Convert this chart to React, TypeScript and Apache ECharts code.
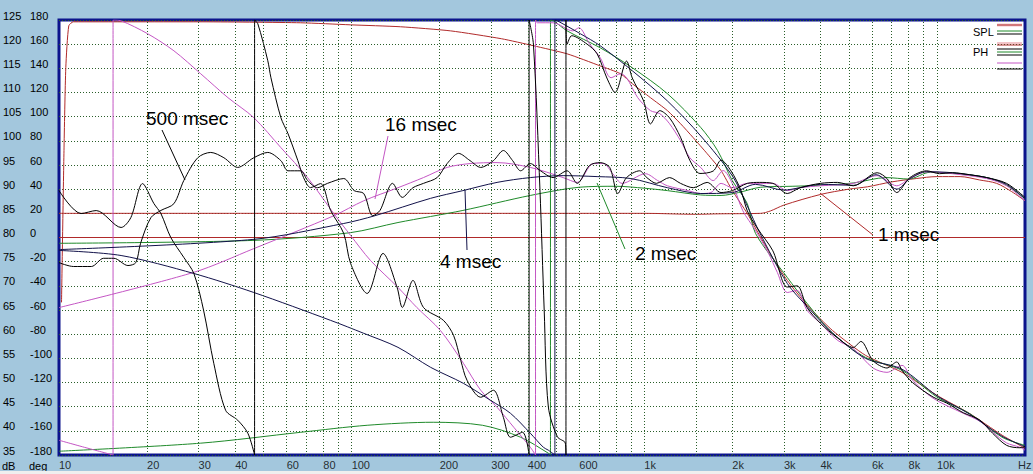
import React, { useEffect, useRef } from "react";
import * as echarts from "echarts";

// ---------- DATA ----------
// x tick labels [frequency Hz, text]
const xTickLabels: [number, string][] = [
  [10, "10"], [20, "20"], [30, "30"], [40, "40"], [60, "60"], [80, "80"],
  [100, "100"], [200, "200"], [300, "300"], [400, "400"], [600, "600"],
  [1000, "1k"], [2000, "2k"], [3000, "3k"], [4000, "4k"], [6000, "6k"],
  [8000, "8k"], [10000, "10k"], [20000, "Hz"],
];
// vertical grid lines (Hz)
const gridFreqs = [
  20, 30, 40, 50, 60, 70, 80, 90, 100, 200, 300, 400, 500, 600, 700, 800, 900,
  1000, 1500, 2000, 3000, 4000, 5000, 6000, 7000, 8000, 9000, 10000,
];

// SPL curves [Hz, dB]
const spl1ms: [number, number][] = [
  [10, 85.0], [1000, 85.0], [1500, 84.8], [1800, 84.9], [2500, 85.0], [2700, 85.5],
  [3000, 86.7], [4000, 88.9], [5000, 90.0], [5800, 90.5], [7000, 91.5], [8500, 92.2],
  [10000, 92.6], [12000, 92.6], [14000, 91.9], [16000, 91.2], [18000, 89.5], [20000, 87.6],
];
const spl2ms: [number, number][] = [
  [10, 78.8], [46, 79.4], [99, 81.0], [144, 83.1], [240, 85.6], [408, 88.7], [600, 90.4],
  [800, 90.6], [1000, 90.2], [1200, 89.7], [1560, 88.8], [1830, 88.7], [2100, 89.3],
  [2500, 90.4], [3200, 90.6], [4000, 90.8], [5200, 91.3], [6700, 92.4], [8000, 92.1],
  [9500, 93.5], [11300, 93.3], [14800, 92.4], [17300, 90.8], [20000, 88.0],
];
const spl4ms: [number, number][] = [
  [10, 77.5], [46, 79.6], [94, 82.9], [120, 84.5], [186, 88.1], [240, 89.7], [314, 91.4],
  [408, 92.4], [528, 92.8], [690, 92.6], [900, 92.2], [1200, 90.3], [1560, 89.1],
  [2000, 89.3], [2400, 91.0], [3000, 89.8], [3400, 90.3], [4000, 91.0], [5200, 90.8],
  [6200, 93.0], [7300, 90.0], [8100, 92.2], [9200, 93.6], [11300, 93.4], [14800, 92.4],
  [17300, 91.0], [20000, 88.0],
];
const spl16ms: [number, number][] = [
  [10, 65.5], [28.9, 72.8], [46.3, 77.7], [86.9, 84.5], [110, 87.6], [144, 90.3],
  [176, 92.4], [212, 94.5], [254, 95.3], [314, 95.5], [408, 94.5], [528, 92.4],
  [590, 91.4], [670, 95.3], [725, 95.3], [780, 93.2], [840, 91.2], [1010, 93.2],
  [1110, 91.8], [1200, 90.7], [1410, 89.7], [1560, 89.1], [1690, 89.3], [1830, 91.2],
  [2000, 90.3], [2250, 91.2], [2750, 91.2], [3080, 89.7], [3410, 90.3], [4000, 90.7],
  [5180, 91.2], [6250, 92.8], [7290, 90.7], [8090, 92.2], [9230, 93.6], [11300, 93.2],
  [14800, 92.2], [17300, 90.7], [20000, 87.6],
];
const spl500ms: [number, number][] = [
  [10, 74.8], [11.2, 74.0], [12.9, 74.0], [14.2, 75.7], [15.4, 75.7], [17.2, 74.2],
  [18.3, 74.8], [19.0, 78.8], [20.6, 84.1], [22.3, 85.6], [24.7, 87.0], [26.7, 91.8],
  [29.8, 96.5], [33.0, 97.6], [36.6, 96.5], [40.8, 94.5], [46.3, 96.5], [51.7, 97.6],
  [57.3, 95.9], [60.6, 93.8], [67, 93.8], [70.7, 91.8], [76.5, 90.3], [82.7, 91.2],
  [94, 92.2], [102, 89.7], [110, 89.1], [118, 84.5], [125, 85.6], [138, 91.2],
  [149, 88.3], [162, 90.3], [176, 91.2], [196, 92.4], [212, 95.3], [232, 97.4],
  [254, 95.9], [276, 94.5], [305, 95.9], [330, 98.0], [355, 95.9], [378, 93.8],
  [408, 95.3], [442, 93.8], [488, 92.4], [545, 93.8], [590, 91.2], [650, 94.9],
  [707, 95.5], [762, 94.5], [812, 89.1], [870, 92.4], [964, 93.8], [1020, 92.4],
  [1100, 91.2], [1220, 92.4], [1330, 91.2], [1470, 90.3], [1640, 91.4], [1830, 89.3],
  [2000, 89.7], [2250, 91.2], [2480, 91.4], [2750, 91.2], [3080, 89.1], [3410, 90.3],
  [4000, 91.2], [4570, 91.4], [5180, 90.7], [6250, 93.4], [6750, 92.2], [7290, 89.3],
  [8090, 92.4], [9230, 93.8], [10200, 93.2], [11300, 93.4], [12900, 93.0],
  [14800, 92.4], [17300, 91.2], [20000, 88.3],
];

// Phase curves [Hz, deg]
const ph1ms: [number, number][] = [
  [10.2, -53.7], [10.4, 71.9], [10.55, 140.5], [10.8, 175.2], [11.2, 178.5], [30, 178.5],
  [67, 177.7], [99, 176], [147, 174.4], [218, 171], [325, 164.5], [418, 158.7],
  [545, 152], [707, 142], [830, 135.5], [910, 127.3], [1050, 115.7], [1200, 105],
  [1330, 94.2], [1470, 82.6], [1640, 69.4], [1830, 55.4], [2000, 38.8], [2250, 19.8],
  [2500, 0], [2750, -17], [3080, -35.5], [3600, -56], [4400, -77], [5700, -97.5],
  [7600, -111.6], [10000, -130.6], [12900, -145.5], [16700, -163.6], [20000, -174.4],
];
const phZero: [number, number][] = [[10, 0], [20000, 0]];
const ph2ms: [number, number][] = [
  [10, -176.9], [30.5, -170.2], [67, -161.2], [113, -155.4], [190, -152.9],
  [280, -155.4], [378, -165.3], [470, -178.5], [478, -180], [478, 180], [490, 179.3],
  [545, 171], [707, 157], [910, 140.5], [1200, 119], [1560, 91], [1780, 72],
  [2000, 47], [2250, 28], [2400, 3.3], [3080, -33], [3600, -54.5], [4400, -79.3],
  [5700, -99.2], [7600, -110], [10000, -132], [12900, -145.5], [16700, -165.3],
  [20000, -172],
];
const ph4ms: [number, number][] = [
  [10, -10.7], [16.3, -14.9], [28.9, -29.8], [46.3, -45.5], [84.8, -68.6], [110, -79.3],
  [144, -90.9], [186, -107.4], [241, -120.7], [298, -134.7], [349, -145.5], [408, -162],
  [452, -173.6], [470, -176], [495, -180], [495, 180], [505, 179.3], [605, 168.6],
  [707, 158.7], [910, 138], [1200, 113], [1560, 84], [2000, 51], [2250, 26], [2480, 4],
  [3080, -38], [3600, -57], [4400, -79], [5700, -100], [7600, -109], [10000, -131],
  [12900, -146], [16700, -164.5], [20000, -173],
];
const ph16ms: [number, number][] = [
  [10, -167.8], [12.2, -173.6], [15.3, -180], [15.3, 180], [16.3, 179.3], [20.1, 168.6],
  [24.7, 154.5], [30.5, 135.5], [37.8, 115.7], [46.3, 99.2], [57.3, 74.4], [70.7, 49.6],
  [86.9, 19.8], [99.2, 1.7], [116, -19], [144, -41.3], [167, -57.9], [201, -76.9],
  [241, -104.1], [276, -126.4], [314, -140.5], [358, -157], [408, -173.6], [425, -180],
  [425, 180], [431, 177.7], [488, 177.7], [570, 171], [598, 173.6], [650, 160.3],
  [707, 148.8], [770, 132.2], [830, 135.5], [870, 132.2], [950, 115.7], [1050, 105],
  [1130, 102.5], [1220, 94.2], [1330, 80.2], [1430, 66.1], [1560, 57.9], [1720, 47.1],
  [1860, 55.4], [2000, 44.6], [2170, 22.3], [2400, 5.8], [2650, -12.4], [2850, -29],
  [3080, -45.5], [3330, -43.8], [3600, -60.3], [4000, -71], [4570, -85], [5180, -92],
  [6050, -108], [6750, -111.6], [7600, -105.8], [8250, -118], [9700, -133],
  [12300, -145.5], [14000, -152], [15500, -161], [17300, -170], [19200, -173.6],
  [20000, -176],
];
const ph500ms: [number, number][] = [
  [10, 38.8], [11.9, 19.8], [13.4, 22.3], [16.3, 8.3], [17.6, 16.5], [19.3, 44.6],
  [21.1, 28.1], [22.3, 19.8], [24.1, 0], [26.7, -16.5], [28.9, -29.8], [31.2, -60.3],
  [33.8, -104.1], [37.1, -143], [40.8, -151.2], [44.2, -162], [46.6, -180], [46.6, 180],
  [47.8, 176.9], [51.7, 146.3], [53, 132.2], [57.3, 99.2], [60.6, 86], [65.5, 63.6],
  [68.5, 49.6], [72.4, 41.3], [78.3, 44.6], [84.8, 22.3], [94, 3.3], [99.2, -21.5],
  [113, -46.3], [128, -13.2], [143, -41.3], [149, -57.9], [162, -35.5], [176, -57.9],
  [206, -68.6], [223, -81], [236, -101.7], [248, -118.2], [276, -132.2], [305, -126.4],
  [330, -148.8], [349, -165.3], [384, -161.2], [404, -180], [404, 180], [418, 160],
  [440, 40], [455, -60], [470, -140], [505, -165], [537, -170], [540, -180], [540, 180],
  [545, 160], [565, 167], [638, 160], [690, 152], [745, 132], [795, 120], [870, 146],
  [910, 132], [995, 113], [1050, 94], [1130, 105], [1220, 99], [1330, 83], [1430, 64],
  [1550, 53], [1720, 55], [1830, 64], [1980, 55], [2140, 39], [2250, 22], [2430, 8],
  [2750, -11], [3080, -41], [3330, -40], [3600, -58], [4000, -71], [4570, -83],
  [5180, -91], [5500, -86], [6050, -102], [6750, -108], [7290, -103], [7600, -110],
  [8250, -120], [9700, -132], [10800, -137], [12300, -145], [14000, -151],
  [15500, -162], [17300, -172], [19200, -174], [20000, -173],
];

// ---------- STYLE ----------
const RED = "#b02a2a";
const PINK = "#f2c4c8";
const GREEN = "#1f8a2a";
const NAVY = "#12124a";
const MAGENTA = "#c456c4";
const BLACK = "#000000";
const GRID = "#2a5e2a";
const FONT = '"Liberation Sans", Arial, sans-serif';

function lineSeries(name: string, data: [number, number][], color: string, yAxisIndex: number, smooth: number | boolean = 0.3) {
  return {
    type: "line",
    name,
    data,
    xAxisIndex: 0,
    yAxisIndex,
    showSymbol: false,
    symbol: "none",
    smooth,
    silent: true,
    clip: true,
    z: 3,
    lineStyle: { color, width: 1 },
    itemStyle: { color },
  };
}

function txt(text: string, x: number, y: number, size: number, fill = "#000") {
  return {
    type: "text",
    x,
    y,
    silent: true,
    z: 50,
    style: {
      text,
      fill,
      font: `${size}px ${FONT}`,
      align: "left",
      verticalAlign: "middle",
      textAlign: "left",
      textVerticalAlign: "middle",
    },
  };
}
function seg(x1: number, y1: number, x2: number, y2: number, stroke: string, lineWidth = 1) {
  return { type: "line", silent: true, z: 50, shape: { x1, y1, x2, y2 }, style: { stroke, lineWidth } };
}

export default function App() {
  const ref = useRef<HTMLDivElement>(null);
  useEffect(() => {
    document.body.style.margin = "0";
    const chart = echarts.init(ref.current!, null, { renderer: "svg" });
    const labelStyle = { color: "#000", fontSize: 11, fontFamily: FONT };
    const option: any = {
      animation: false,
      backgroundColor: "#a3c7dd",
      grid: {
        left: 58, top: 20, width: 967, height: 435,
        show: true, backgroundColor: "#ffffff", borderColor: "#0c148c", borderWidth: 3,
      },
      xAxis: [{
        type: "log", logBase: 10, min: 10, max: 20000,
        axisLine: { show: false }, axisTick: { show: false },
        axisLabel: { show: false }, splitLine: { show: false }, minorSplitLine: { show: false },
      }],
      yAxis: [
        {
          type: "value", min: -180, max: 180, interval: 20, position: "left",
          axisLine: { show: false }, axisTick: { show: false },
          axisLabel: { ...labelStyle, align: "left", margin: 29, verticalAlign: "bottom", lineHeight: 9 },
          splitLine: { show: true, lineStyle: { color: GRID, width: 1, type: [1, 2] } },
        },
        {
          type: "value", min: 35, max: 125, interval: 5, position: "left",
          axisLine: { show: false }, axisTick: { show: false },
          axisLabel: { ...labelStyle, align: "left", margin: 56, verticalAlign: "bottom", lineHeight: 9 },
          splitLine: { show: false },
        },
      ],
      series: [
        {
          type: "line", name: "grid", data: [[10, 0]], yAxisIndex: 0, showSymbol: false,
          symbol: "none", silent: true, lineStyle: { opacity: 0 }, z: 1,
          markLine: {
            silent: true, symbol: "none", label: { show: false }, animation: false,
            lineStyle: { color: GRID, width: 1, type: [1, 2] },
            data: gridFreqs.map((f) => ({ xAxis: f })),
          },
        },
        {
          type: "scatter", name: "xlabels", yAxisIndex: 0, symbolSize: 1, silent: true,
          itemStyle: { color: "rgba(0,0,0,0)" }, clip: false,
          data: xTickLabels.map(([f, t]) => ({
            value: [f, -180],
            name: t,
            label: f >= 20000 ? { offset: [-7, 0] } : undefined,
          })),
          label: { show: true, position: "bottom", distance: 4, align: "left", formatter: "{b}", ...labelStyle },
        },
        lineSeries("ph0", phZero, RED, 0, false),
        lineSeries("spl1ms", spl1ms, RED, 1),
        lineSeries("ph1ms", ph1ms, RED, 0, 0.2),
        lineSeries("ph2ms", ph2ms, GREEN, 0),
        lineSeries("spl2ms", spl2ms, GREEN, 1),
        lineSeries("ph16ms", ph16ms, MAGENTA, 0),
        lineSeries("spl16ms", spl16ms, MAGENTA, 1),
        lineSeries("ph4ms", ph4ms, NAVY, 0),
        lineSeries("spl4ms", spl4ms, NAVY, 1),
        lineSeries("ph500ms", ph500ms, BLACK, 0),
        lineSeries("spl500ms", spl500ms, BLACK, 1),
      ],
      graphic: [
        // annotations
        txt("500 msec", 146, 118, 19),
        seg(162, 130, 185, 180, BLACK),
        txt("16 msec", 385, 124, 19),
        seg(388, 136, 375, 199, MAGENTA),
        txt("4 msec", 440, 261, 19),
        seg(467, 250, 465, 190, NAVY),
        txt("2 msec", 635, 253, 19),
        seg(625, 249, 597, 183, GREEN),
        txt("1 msec", 878, 234, 19),
        seg(873, 235, 820, 193, RED),
        // legend
        txt("SPL", 973, 32, 11),
        seg(997, 25, 1022, 25, PINK, 3), seg(997, 25, 1022, 25, RED),
        seg(997, 31, 1022, 31, GREEN), seg(997, 34, 1022, 34, BLACK),
        txt("PH", 973, 52, 11),
        seg(997, 43, 1022, 43, PINK, 2), seg(997, 45, 1022, 45, RED),
        seg(997, 49, 1022, 49, BLACK), seg(997, 52, 1022, 52, GREEN),
        seg(997, 55, 1022, 55, BLACK), seg(997, 63, 1022, 63, MAGENTA),
        seg(997, 69, 1022, 69, BLACK),
        // axis unit captions
        txt("dB", 2, 466, 11), txt("deg", 29, 466, 11),
        // window bottom strip
        { type: "rect", silent: true, z: 100, shape: { x: 0, y: 471, width: 1033, height: 3 }, style: { fill: "#efefef" } },
      ],
    };
    chart.setOption(option);
    return () => chart.dispose();
  }, []);
  return <div ref={ref} style={{ position: "fixed", left: 0, top: 0, width: 1033, height: 474 }} />;
}
